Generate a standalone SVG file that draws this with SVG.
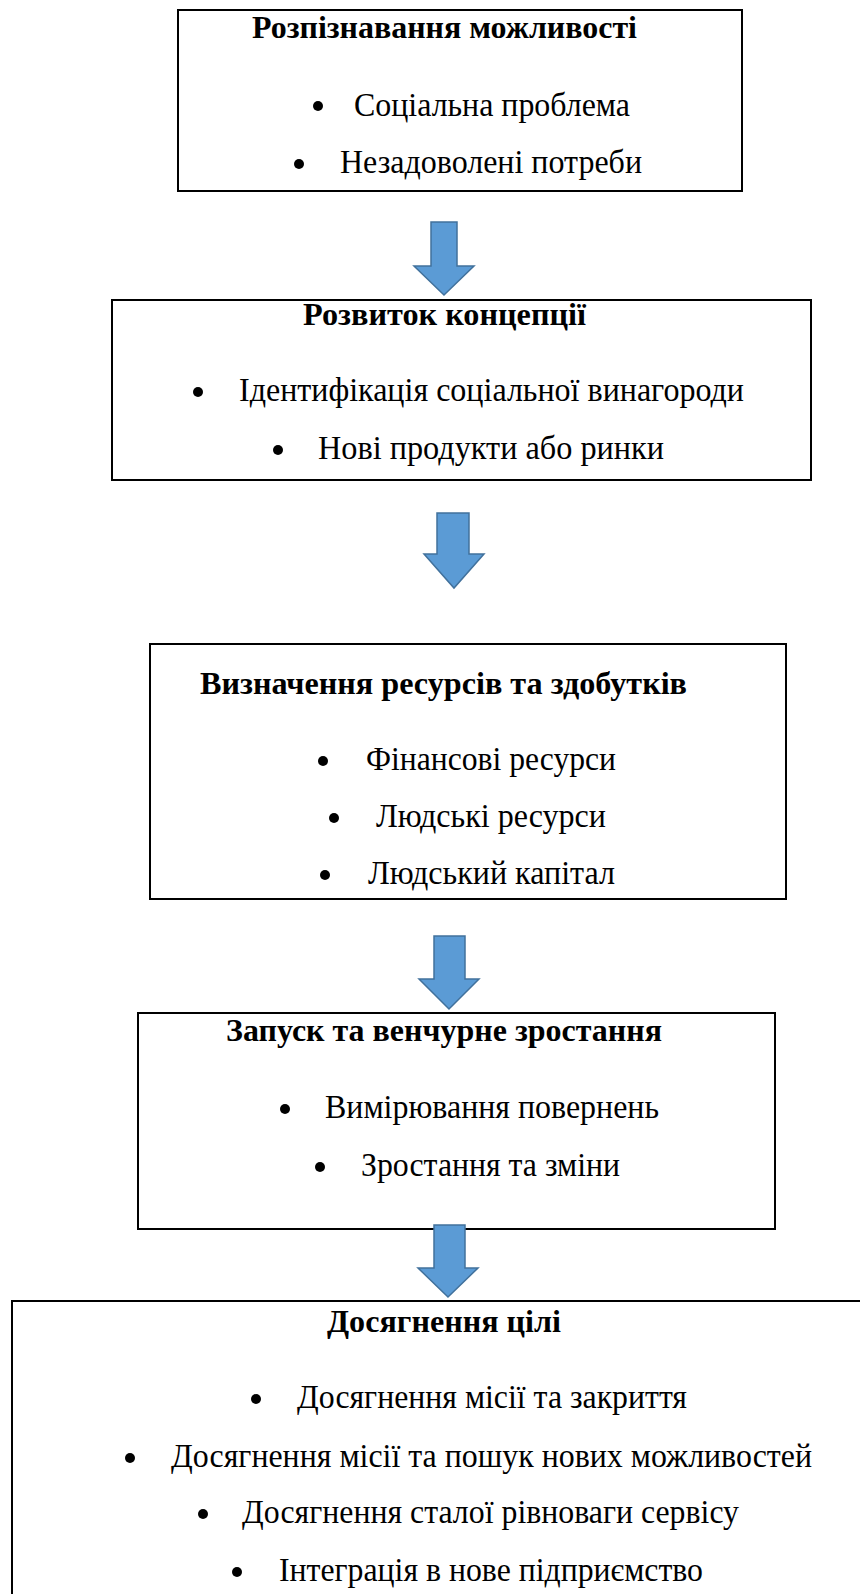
<svg xmlns="http://www.w3.org/2000/svg" width="860" height="1594" viewBox="0 0 860 1594">
<style>
.box{fill:#fff;stroke:#000;stroke-width:2}
.t{font-family:"Liberation Serif","Times New Roman",serif;font-size:31px;font-weight:bold;fill:#000}
.b{font-family:"Liberation Serif","Times New Roman",serif;font-size:33px;fill:#000}
.b5{font-family:"Liberation Serif","Times New Roman",serif;font-size:34px;fill:#000}
.dot{fill:#000}
.arr{fill:#5B9BD5;stroke:#41719C;stroke-width:1.5}
</style>
<rect width="860" height="1594" fill="#fff"/>
<g id="node1">
<rect class="box" x="178" y="10" width="564" height="181"/>
<text class="t" x="252" y="38" textLength="385" lengthAdjust="spacingAndGlyphs">Розпізнавання можливості</text>
<circle class="dot" cx="318" cy="106" r="5"/>
<text class="b" x="354" y="116" textLength="276" lengthAdjust="spacingAndGlyphs">Соціальна проблема</text>
<circle class="dot" cx="299" cy="164" r="5"/>
<text class="b" x="340" y="173" textLength="302" lengthAdjust="spacingAndGlyphs">Незадоволені потреби</text>
</g>
<g id="node2">
<rect class="box" x="112" y="300" width="699" height="180"/>
<text class="t" x="303" y="325" textLength="283" lengthAdjust="spacingAndGlyphs">Розвиток концепції</text>
<circle class="dot" cx="198" cy="392" r="5"/>
<text class="b" x="239" y="401" textLength="505" lengthAdjust="spacingAndGlyphs">Ідентифікація соціальної винагороди</text>
<circle class="dot" cx="278" cy="450" r="5"/>
<text class="b" x="318" y="459" textLength="346" lengthAdjust="spacingAndGlyphs">Нові продукти або ринки</text>
</g>
<g id="node3">
<rect class="box" x="150" y="644" width="636" height="255"/>
<text class="t" x="200" y="694" textLength="487" lengthAdjust="spacingAndGlyphs">Визначення ресурсів та здобутків</text>
<circle class="dot" cx="323" cy="761" r="5"/>
<text class="b" x="366" y="770" textLength="250" lengthAdjust="spacingAndGlyphs">Фінансові ресурси</text>
<circle class="dot" cx="334" cy="818" r="5"/>
<text class="b" x="376" y="827" textLength="230" lengthAdjust="spacingAndGlyphs">Людські ресурси</text>
<circle class="dot" cx="325" cy="875" r="5"/>
<text class="b" x="368" y="884" textLength="247" lengthAdjust="spacingAndGlyphs">Людський капітал</text>
</g>
<g id="node4">
<rect class="box" x="138" y="1013" width="637" height="216"/>
<text class="t" x="226" y="1041" textLength="436" lengthAdjust="spacingAndGlyphs">Запуск та венчурне зростання</text>
<circle class="dot" cx="285" cy="1109" r="5"/>
<text class="b" x="325" y="1118" textLength="334" lengthAdjust="spacingAndGlyphs">Вимірювання повернень</text>
<circle class="dot" cx="320" cy="1167" r="5"/>
<text class="b" x="361" y="1176" textLength="259" lengthAdjust="spacingAndGlyphs">Зростання та зміни</text>
</g>
<g id="node5">
<rect class="box" x="12" y="1301" width="860" height="310"/>
<text class="t" x="327" y="1332" textLength="234" lengthAdjust="spacingAndGlyphs">Досягнення цілі</text>
<circle class="dot" cx="256" cy="1399" r="5"/>
<text class="b5" x="297" y="1408" textLength="390" lengthAdjust="spacingAndGlyphs">Досягнення місії та закриття</text>
<circle class="dot" cx="130" cy="1458" r="5"/>
<text class="b5" x="171" y="1467" textLength="641" lengthAdjust="spacingAndGlyphs">Досягнення місії та пошук нових можливостей</text>
<circle class="dot" cx="203" cy="1514" r="5"/>
<text class="b5" x="242" y="1523" textLength="497" lengthAdjust="spacingAndGlyphs">Досягнення сталої рівноваги сервісу</text>
<circle class="dot" cx="237" cy="1572" r="5"/>
<text class="b5" x="279" y="1581" textLength="424" lengthAdjust="spacingAndGlyphs">Інтеграція в нове підприємство</text>
</g>
<g id="connectors">
<polygon class="arr" points="431,222 457,222 457,266 474,266 444,295 414,266 431,266"/>
<polygon class="arr" points="437,513 469,513 469,554 484,554 454,588 424,554 437,554"/>
<polygon class="arr" points="434,936 465,936 465,979 479,979 449,1009 419,979 434,979"/>
<polygon class="arr" points="434,1225 465,1225 465,1268 478,1268 448,1297 418,1268 434,1268"/>
</g>
</svg>
